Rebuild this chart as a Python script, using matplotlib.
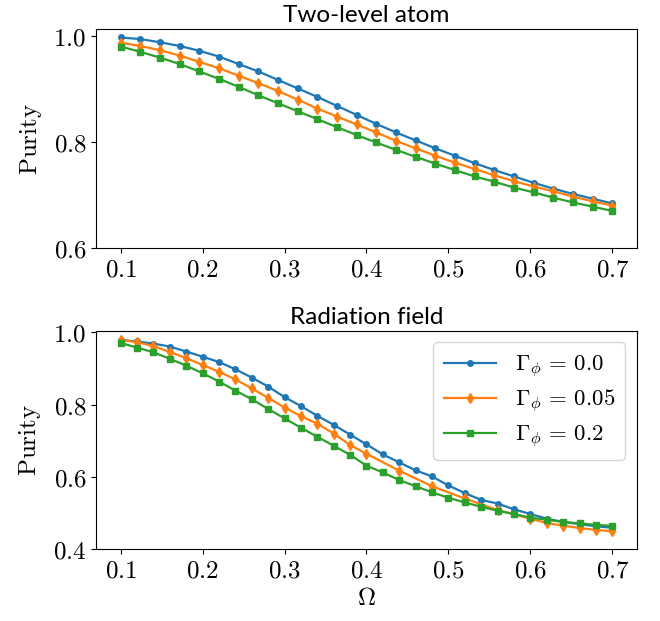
import numpy as np
import matplotlib
matplotlib.use("Agg")
import matplotlib.pyplot as plt
from matplotlib.ticker import FuncFormatter

plt.rcParams["mathtext.fontset"] = "cm"

# ---------------------------------------------------------
# data
# ---------------------------------------------------------
omega_atom = np.linspace(0.1, 0.7, 26)
atom_g000 = [0.997, 0.994, 0.988, 0.981, 0.972, 0.961, 0.947, 0.933, 0.917,
             0.901, 0.885, 0.868, 0.851, 0.834, 0.818, 0.803, 0.788, 0.774,
             0.760, 0.747, 0.735, 0.723, 0.712, 0.702, 0.693, 0.684]
atom_g005 = [0.987, 0.981, 0.973, 0.963, 0.951, 0.939, 0.925, 0.911, 0.896,
             0.880, 0.863, 0.848, 0.833, 0.818, 0.802, 0.788, 0.774, 0.761,
             0.749, 0.737, 0.726, 0.716, 0.707, 0.697, 0.688, 0.680]
atom_g020 = [0.980, 0.970, 0.959, 0.947, 0.933, 0.919, 0.904, 0.888, 0.873,
             0.858, 0.843, 0.828, 0.813, 0.799, 0.785, 0.772, 0.759, 0.747,
             0.735, 0.725, 0.714, 0.705, 0.695, 0.686, 0.678, 0.670]

omega_field = np.linspace(0.1, 0.7, 31)
field_g000 = [0.979, 0.975, 0.969, 0.961, 0.947, 0.933, 0.918, 0.898, 0.875,
              0.850, 0.821, 0.796, 0.769, 0.744, 0.717, 0.690, 0.662, 0.640,
              0.618, 0.601, 0.576, 0.555, 0.536, 0.526, 0.510, 0.497, 0.484,
              0.475, 0.469, 0.463, 0.459]
# orange curve has fewer samples on the right half
omega_field_g005 = [0.10, 0.12, 0.14, 0.16, 0.18, 0.20, 0.22, 0.24, 0.26,
                    0.28, 0.30, 0.32, 0.34, 0.36, 0.38, 0.40, 0.44, 0.48,
                    0.52, 0.56, 0.60, 0.62, 0.64, 0.66, 0.68, 0.70]
field_g005 = [0.979, 0.973, 0.962, 0.946, 0.929, 0.910, 0.891, 0.870, 0.845,
              0.819, 0.792, 0.768, 0.747, 0.720, 0.688, 0.664, 0.617, 0.574,
              0.540, 0.508, 0.484, 0.472, 0.465, 0.458, 0.453, 0.449]
field_g020 = [0.971, 0.958, 0.945, 0.927, 0.908, 0.887, 0.864, 0.839, 0.815,
              0.788, 0.762, 0.736, 0.711, 0.686, 0.661, 0.631, 0.612, 0.591,
              0.574, 0.557, 0.542, 0.529, 0.517, 0.506, 0.497, 0.487, 0.481,
              0.475, 0.471, 0.467, 0.464]

labels = [r"$\Gamma_\phi \,=\, 0.0$", r"$\Gamma_\phi \,=\, 0.05$",
          r"$\Gamma_\phi \,=\, 0.2$"]
xticks = [0.1, 0.2, 0.3, 0.4, 0.5, 0.6, 0.7]

tick_fmt = FuncFormatter(lambda v, pos: r"$%.1f$" % v)
FS = 18

fig = plt.figure(figsize=(6.6, 6.21), dpi=100)
ax1 = fig.add_axes([0.1455, 0.6006, 0.8195, 0.3527])
ax2 = fig.add_axes([0.1455, 0.1159, 0.8195, 0.3511])

ax1.plot(omega_atom, atom_g000, marker="o", ms=4, lw=1.6, label=labels[0])
ax1.plot(omega_atom, atom_g005, marker="d", ms=5, lw=1.6, label=labels[1])
ax1.plot(omega_atom, atom_g020, marker="s", ms=4, lw=1.6, label=labels[2])

ax2.plot(omega_field, field_g000, marker="o", ms=4, lw=1.6, label=labels[0])
ax2.plot(omega_field_g005, field_g005, marker="d", ms=5, lw=1.6, label=labels[1])
ax2.plot(omega_field, field_g020, marker="s", ms=4, lw=1.6, label=labels[2])

ax1.set_ylim(0.6, 1.013)
ax2.set_ylim(0.4, 1.004)
ax1.set_yticks([0.6, 0.8, 1.0])
ax2.set_yticks([0.4, 0.6, 0.8, 1.0])

for ax in (ax1, ax2):
    ax.set_xlim(0.07, 0.73)
    ax.set_xticks(xticks)
    ax.xaxis.set_major_formatter(tick_fmt)
    ax.yaxis.set_major_formatter(tick_fmt)
    ax.tick_params(labelsize=FS)
    ax.set_ylabel(r"$\mathrm{Purity}$", fontsize=FS, labelpad=7)

ax1.set_title("Two-level atom", fontsize=17.5, family="Lato", pad=5)
ax2.set_title("Radiation field", fontsize=17.5, family="Lato", pad=5)
ax2.set_xlabel(r"$\Omega$", fontsize=FS, labelpad=2)

ax2.legend(loc="upper right", fontsize=16.5, handlelength=2.3,
           labelspacing=0.35, borderpad=0.45)

fig.savefig("out.png", dpi=100)
plt.close(fig)
